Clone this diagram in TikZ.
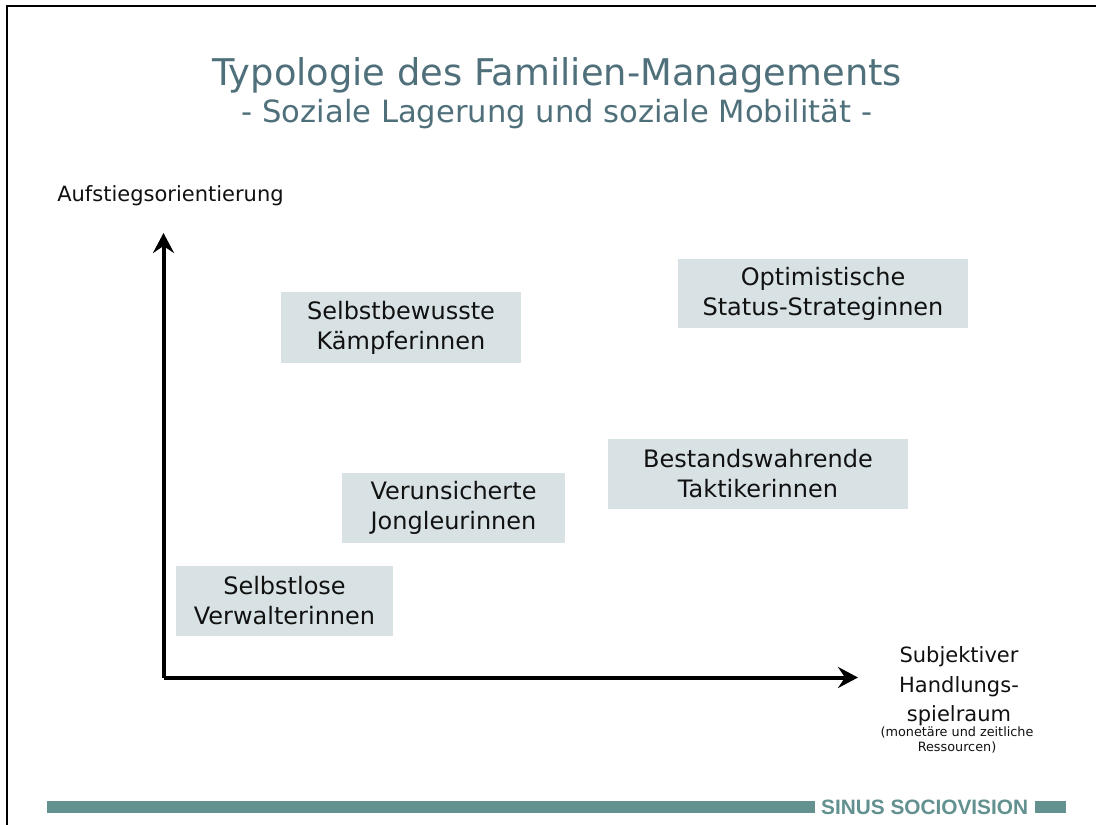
\documentclass[tikz,border=0pt]{standalone}
\usepackage{fontspec}
\setmainfont{DejaVu Sans}
\newfontfamily\logofont{Liberation Sans}
\usetikzlibrary{arrows.meta}
\definecolor{titlecol}{HTML}{4F707A}
\definecolor{boxfill}{HTML}{D8E2E5}
\definecolor{barcol}{HTML}{62918F}
\definecolor{txt}{HTML}{111111}
\tikzset{
  typebox/.style={fill=boxfill, draw=none, text=txt, align=center, inner sep=0pt,
    font=\fontsize{24}{30}\selectfont},
  axis/.style={line width=4pt, draw=black, -{Stealth[length=20pt,width=21pt,inset=7pt]}},
  lbl/.style={text=txt, align=center, inner sep=0pt},
  bar/.style={fill=barcol, draw=none}
}
\begin{document}
\begin{tikzpicture}[x=1pt,y=-1pt]
\useasboundingbox (0,0) rectangle (1096,825);
\fill[white] (0,0) rectangle (1096,825);
% frame
\draw[line width=2.5pt] (7,825) -- (7,6) -- (1096,6);
% title
\node[text=titlecol, font=\fontsize{36.8}{40}\selectfont, inner sep=0pt] (title) at (557,75) {Typologie des Familien-Managements};
\node[text=titlecol, font=\fontsize{30.6}{34}\selectfont, inner sep=0pt] (subtitle) at (557,114) {- Soziale Lagerung und soziale Mobilität -};
% axes
\coordinate (O) at (163.5,677.5);
\coordinate (ytop) at (163.5,233);
\coordinate (xend) at (858,677.5);
\draw[axis] (O) -- (ytop);
\draw[axis] (O) -- (xend);
\node[lbl, font=\fontsize{21}{25}\selectfont] (ylab) at (170.5,196) {Aufstiegsorientierung};
\node[lbl, font=\fontsize{21}{29.5}\selectfont] (xlab) at (959,686.5) {Subjektiver\\Handlungs-\\spielraum};
\node[lbl, font=\fontsize{12.8}{15}\selectfont] (xsub) at (957,740) {(monetäre und zeitliche\\Ressourcen)};
% boxes
\node[typebox, minimum width=240pt, minimum height=71pt] (K) at (401,327.5) {Selbstbewusste\\Kämpferinnen};
\node[typebox, minimum width=290pt, minimum height=69pt] (Op) at (823,293.5) {Optimistische\\Status-Strateginnen};
\node[typebox, minimum width=300pt, minimum height=70pt] (B) at (758,474) {Bestandswahrende\\Taktikerinnen};
\node[typebox, minimum width=223pt, minimum height=70pt] (J) at (453.5,508) {Verunsicherte\\Jongleurinnen};
\node[typebox, minimum width=217pt, minimum height=70pt] (V) at (284.5,601) {Selbstlose\\Verwalterinnen};
% footer
\fill[bar] (47,801) rectangle (815,813);
\fill[bar] (1035,801) rectangle (1066,813);
\node[text=barcol, font=\logofont\bfseries\fontsize{20.8}{22}\selectfont, inner sep=0pt, anchor=west] (logo) at (821,807) {SINUS SOCIOVISION};
\end{tikzpicture}
\end{document}
